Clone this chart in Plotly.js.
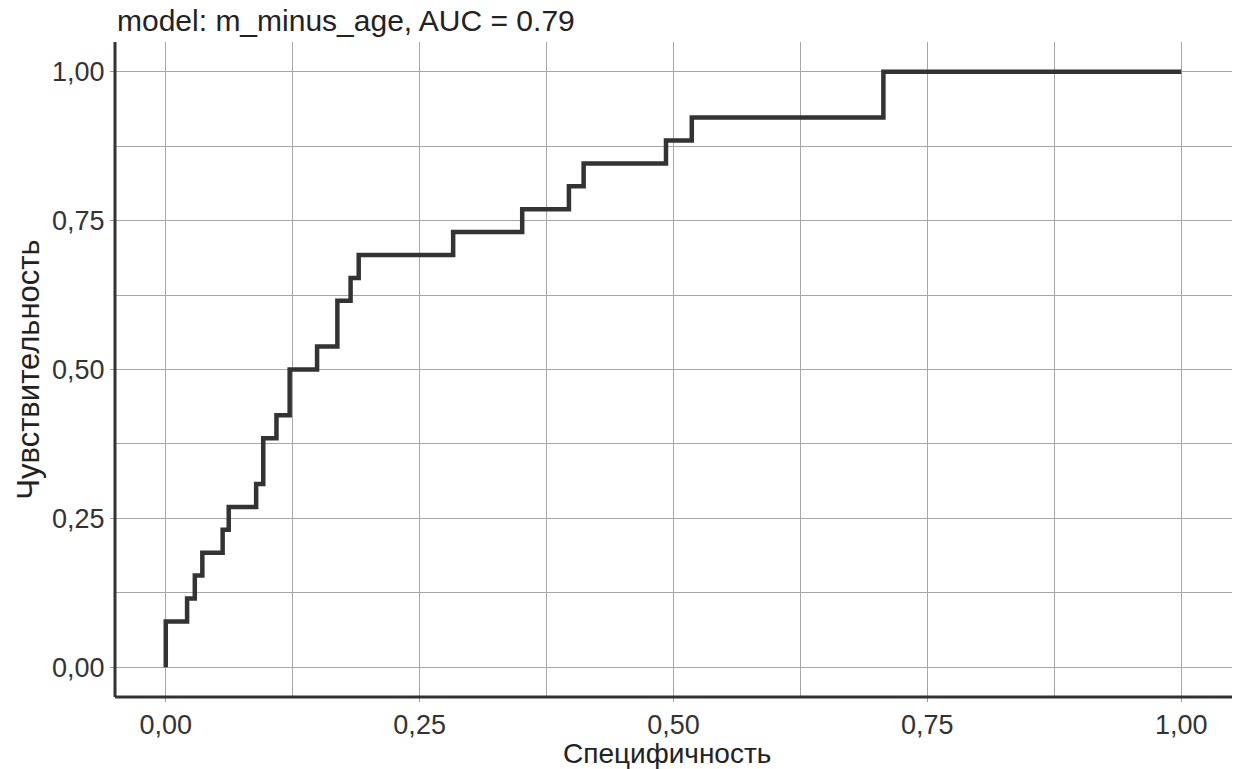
<!DOCTYPE html>
<html>
<head>
<meta charset="utf-8">
<script src="https://cdn.plot.ly/plotly-3.0.1.min.js"></script>
<style>html,body{margin:0;padding:0;background:#fff;}#chart{width:1237px;height:769px;}</style>
</head>
<body>
<div id="chart"></div>
<script>
// ROC curve step points (x = specificity axis value, y = sensitivity)
const specificity = [0, 0, 0.021, 0.0286, 0.036, 0.056, 0.062, 0.089, 0.096, 0.109, 0.122, 0.149, 0.169, 0.182, 0.190, 0.283, 0.351, 0.397, 0.4115, 0.4926, 0.518, 0.7067, 1.0];
const sensitivity = [0, 2/26, 3/26, 4/26, 5/26, 6/26, 7/26, 8/26, 10/26, 11/26, 13/26, 14/26, 16/26, 17/26, 18/26, 19/26, 20/26, 21/26, 22/26, 23/26, 24/26, 1.0, 1.0];
const titleText = "model: m_minus_age, AUC = 0.79";
const xTitle = "Специфичность";
const yTitle = "Чувствительность";
const tickVals = [0, 0.25, 0.5, 0.75, 1.0];
const tickText = ["0,00", "0,25", "0,50", "0,75", "1,00"];

const font = "Liberation Sans, Arial, sans-serif";
const axisCommon = {
  range: [-0.05, 1.05],
  tickvals: tickVals,
  ticktext: tickText,
  showgrid: true,
  gridcolor: "#a6a6a6",
  gridwidth: 1,
  minor: {tickvals: [0.125, 0.375, 0.625, 0.875], showgrid: true, gridcolor: "#a6a6a6", gridwidth: 1, ticks: ""},
  zeroline: false,
  showline: false,
  ticks: "outside",
  ticklen: 4,
  tickwidth: 1,
  tickcolor: "#999",
  tickfont: {family: font, size: 27, color: "#333"},
  fixedrange: true
};

const trace = {
  x: specificity,
  y: sensitivity,
  type: "scatter",
  mode: "lines",
  line: {shape: "hv", color: "#333333", width: 4.5},
  hoverinfo: "skip"
};

const layout = {
  width: 1237,
  height: 769,
  margin: {l: 115, r: 5, t: 42, b: 72},
  paper_bgcolor: "#fff",
  plot_bgcolor: "#fff",
  showlegend: false,
  title: {text: titleText, font: {family: font, size: 30, color: "#222"}, xref: "container", x: 117/1237, xanchor: "left", yref: "container", y: 1 - 20/769, yanchor: "middle"},
  xaxis: Object.assign({}, axisCommon, {ticklabelstandoff: 0}),
  yaxis: Object.assign({}, axisCommon, {title: {text: yTitle, font: {family: font, size: 31, color: "#222"}, standoff: 3}}),
  annotations: [
    {text: xTitle, xref: "paper", yref: "paper", x: 0.494, y: 0, xanchor: "center", yanchor: "top", yshift: -40, borderpad: 0, showarrow: false, font: {family: font, size: 28, color: "#222"}}
  ],
  shapes: [
    {type: "line", xref: "paper", yref: "paper", x0: 0, x1: 1, y0: 0, y1: 0, line: {color: "#333", width: 3}},
    {type: "line", xref: "paper", yref: "paper", x0: 0, x1: 0, y0: 0, y1: 1, line: {color: "#333", width: 3}}
  ]
};

Plotly.newPlot("chart", [trace], layout, {displayModeBar: false, staticPlot: true});
</script>
</body>
</html>
